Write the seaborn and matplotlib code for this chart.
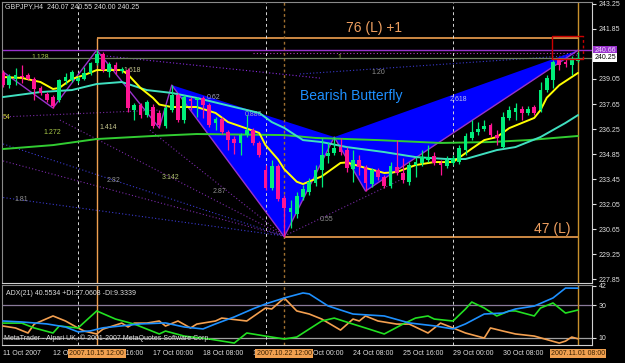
import numpy as np
import pandas as pd
import matplotlib
matplotlib.use("Agg")
import matplotlib.pyplot as plt
import matplotlib.transforms as mtransforms
from matplotlib.patches import Polygon
import seaborn as sns

# ---------------- data ----------------
opens = [239.39, 238.71, 239.05, 239.22, 239.27, 239.05, 238.55, 238.21, 238.04, 237.87,
         238.94, 238.99, 238.94, 239.05, 239.39, 239.95, 240.45, 239.44, 239.83, 239.50,
         239.55, 237.31, 237.59, 237.03, 237.48, 237.15, 236.42, 237.31, 238.15, 236.75,
         237.93, 237.87, 237.99, 237.59, 236.59, 236.81, 236.08, 235.69, 235.47, 235.91,
         236.19, 235.47, 233.95, 232.95, 234.18, 232.39, 231.60, 231.49, 232.44, 232.72,
         233.23, 233.95, 234.74, 234.91, 235.24, 235.07, 234.01, 234.51, 234.12, 233.17,
         233.95, 233.56, 233.06, 234.12, 233.79, 233.28, 234.23, 234.35, 234.51, 234.74,
         234.35, 234.18, 234.35, 234.40, 235.07, 235.75, 236.08, 236.25, 236.47, 235.91,
         235.24, 236.87, 237.20, 237.37, 237.15, 237.48, 237.31, 238.43, 238.99, 240.11,
         240.00, 239.83, 240.07]
highs = [239.55, 239.33, 239.67, 239.83, 239.39, 239.16, 238.66, 238.32, 238.15, 239.05,
         239.39, 239.55, 239.22, 239.72, 240.00, 240.67, 240.56, 240.00, 240.00, 239.72,
         239.67, 237.71, 237.71, 237.87, 237.65, 237.31, 237.59, 238.71, 238.27, 238.15,
         238.04, 238.04, 238.10, 237.71, 236.92, 236.92, 236.19, 235.86, 236.03, 237.03,
         236.31, 235.58, 234.23, 234.51, 234.29, 232.55, 232.27, 232.72, 233.11, 233.51,
         234.23, 235.75, 235.52, 235.80, 235.75, 235.24, 235.07, 234.79, 234.23, 234.07,
         234.07, 233.67, 234.40, 235.63, 234.63, 234.40, 234.68, 235.07, 235.35, 234.96,
         234.51, 234.74, 234.79, 235.35, 236.03, 236.75, 236.64, 236.75, 236.59, 236.19,
         237.20, 237.54, 237.71, 237.54, 237.54, 237.59, 238.88, 239.27, 240.11, 240.23,
         240.17, 240.34, 240.55]
lows = [238.60, 238.55, 238.71, 238.83, 238.99, 237.87, 238.15, 237.76, 237.43, 237.76,
        238.77, 238.88, 238.83, 238.99, 239.27, 239.83, 239.44, 239.16, 239.33, 239.39,
        237.20, 236.75, 236.87, 236.92, 236.31, 236.31, 236.31, 237.20, 236.64, 236.59,
        237.31, 236.92, 236.87, 236.36, 236.19, 235.97, 235.07, 234.85, 234.79, 235.80,
        235.35, 234.68, 232.83, 232.83, 232.22, 230.22, 230.71, 231.27, 232.27, 232.55,
        233.06, 233.00, 234.35, 234.79, 234.79, 233.84, 233.28, 233.67, 232.78, 233.00,
        233.39, 232.95, 232.95, 233.67, 233.23, 233.11, 233.56, 234.18, 234.40, 234.23,
        233.67, 234.07, 234.23, 234.29, 234.79, 235.63, 235.91, 236.14, 235.80, 235.35,
        235.19, 236.75, 236.75, 236.75, 237.03, 237.03, 237.20, 238.32, 238.55, 239.55,
        239.72, 239.27, 240.00]
closes = [238.71, 239.22, 239.27, 239.16, 239.05, 238.49, 238.27, 237.87, 237.54, 238.99,
          239.16, 239.44, 239.11, 239.39, 239.95, 240.45, 239.55, 239.89, 239.50, 239.61,
          237.43, 237.59, 237.03, 237.76, 236.42, 236.47, 237.43, 238.15, 236.75, 238.04,
          237.82, 237.99, 237.59, 236.47, 236.81, 236.08, 235.63, 235.47, 235.91, 236.19,
          235.47, 234.79, 232.95, 234.18, 232.33, 231.83, 231.83, 232.50, 232.89, 233.28,
          233.95, 234.79, 234.91, 235.19, 234.96, 234.07, 234.51, 234.12, 233.23, 233.95,
          233.56, 233.06, 234.18, 233.79, 233.39, 234.23, 234.40, 234.68, 234.68, 234.35,
          234.23, 234.51, 234.63, 235.19, 235.86, 236.08, 236.25, 236.42, 235.91, 235.75,
          236.92, 237.31, 237.43, 237.15, 237.37, 237.15, 238.43, 239.11, 240.00, 239.83,
          239.89, 240.11, 240.25]

yellow_bar = [0, 3, 6, 8, 9, 11, 13, 15, 19, 20, 22, 24, 25, 27, 31, 34, 36, 38, 41, 42,
              44, 45, 47, 48, 51, 54, 55, 58, 61, 63, 66, 69, 72, 75, 77, 79, 81, 85, 86, 87,
              89, 92]
yellow_val = [239.16, 239.11, 238.88, 238.49, 238.55, 239.05, 239.27, 239.55, 239.55, 239.30,
              238.55, 237.99, 237.62, 237.48, 237.48, 237.15, 236.64, 236.40, 236.03, 235.35,
              234.55, 234.00, 233.30, 233.17, 233.60, 234.35, 234.38, 234.07, 233.79, 233.84,
              234.23, 234.40, 234.40, 235.15, 235.63, 235.80, 236.30, 236.87, 237.31, 238.00,
              238.70, 239.39]
cyan_bar = [0, 6, 11, 15, 19, 20, 23, 27, 31, 37, 41, 43, 45, 48, 51, 55, 61, 66, 71, 74,
            79, 82, 86, 90, 92]
cyan_val = [238.04, 238.32, 238.43, 238.77, 238.88, 238.77, 238.43, 238.27, 237.99, 237.48,
            237.15, 236.64, 236.31, 235.63, 235.52, 235.24, 234.96, 234.68, 234.57, 234.57,
            235.07, 235.24, 235.80, 236.59, 237.03]
green_bar = [0, 8, 15, 24, 31, 45, 50, 60, 70, 78, 84, 92]
green_val = [235.13, 235.35, 235.69, 235.86, 235.97, 235.91, 235.75, 235.63, 235.47, 235.52,
             235.63, 235.86]

zz_bar = [-0.4, 8, 15, 25, 27, 45, 53, 58, 92]
zz_val = [239.55, 237.43, 240.67, 236.31, 238.71, 230.22, 235.80, 232.78, 240.66]

adx_bar = [0, 3, 7, 10, 12, 14, 16, 19, 22, 26, 29, 32, 34, 37, 40, 42, 45, 48, 49, 52,
           56, 61, 65, 69, 72, 74, 77, 80, 82, 85, 88, 90, 92]
adx_val = [20.3, 19.7, 18.5, 16.6, 13.6, 14.2, 16.1, 17.3, 18.5, 19.1, 16.6, 15.4, 18.5, 22.8,
           27.8, 30.8, 34.5, 37.6, 37.0, 29.6, 24.6, 23.4, 19.1, 17.3, 15.4, 18.5, 24.6, 25.2,
           27.7, 29.5, 34.5, 40.6, 40.55]
pdi_bar = [0, 3, 5, 8, 9, 12, 15, 18, 21, 25, 26, 29, 33, 37, 39, 42, 45, 47, 51, 53,
           56, 58, 61, 64, 66, 68, 69, 72, 74, 75, 77, 79, 81, 82, 85, 86, 88, 90, 92]
pdi_val = [19.0, 19.0, 16.0, 12.9, 17.2, 16.0, 26.5, 21.5, 18.4, 12.3, 14.1, 11.0, 9.2, 6.7,
           12.9, 11.0, 9.2, 10.4, 20.3, 22.1, 18.4, 16.0, 12.3, 18.4, 22.1, 23.4, 21.5, 20.3,
           27.7, 32.0, 28.3, 23.4, 26.5, 26.5, 23.4, 28.3, 31.4, 25.2, 27.06]
mdi_bar = [0, 2, 4, 5, 8, 10, 12, 13, 15, 16, 19, 20, 21, 23, 25, 26, 28, 30, 31, 34,
           35, 39, 42, 43, 45, 47, 49, 51, 54, 56, 57, 58, 60, 63, 65, 68, 70, 72, 74, 77,
           78, 80, 82, 85, 89, 90, 91, 92]
mdi_val = [17.2, 16.0, 12.9, 18.4, 23.4, 20.3, 16.0, 14.1, 12.3, 15.3, 19.0, 16.6, 19.0, 19.0,
           20.3, 17.2, 20.3, 16.0, 18.4, 20.3, 22.1, 20.3, 28.3, 27.7, 34.5, 26.5, 24.6, 21.5,
           14.7, 21.5, 20.3, 23.4, 20.3, 18.4, 18.4, 12.9, 19.0, 16.0, 12.9, 9.8, 16.0, 14.1,
           12.3, 11.0, 6.7, 7.9, 10.4, 9.33]

price_ticks = [243.25, 241.85, 239.05, 237.65, 236.25, 234.85, 233.45, 232.05, 230.65, 229.25, 227.85]
adx_ticks = [42, 30, 10]
time_bar = [0, 8, 16, 24, 32, 40, 48, 56, 64, 72, 80, 88]
time_lab = ["11 Oct 2007", "12 Oct 08:00", "15 Oct 16:00", "17 Oct 00:00", "18 Oct 08:00",
            "19 Oct 16:00", "23 Oct 00:00", "24 Oct 08:00", "25 Oct 16:00", "29 Oct 00:00",
            "30 Oct 08:00", "31 Oct 16:00"]
mark_bar = [15, 45, 92]
mark_lab = ["2007.10.15 12:00", "2007.10.22 12:00", "2007.11.01 08:00"]
week_sep = [12, 42, 72]

X_lvl, A_lvl = 240.66, 230.22
bid = 240.25
upper_lvl = 241.33
box_lo, box_hi = 240.15, 241.46
box_left, box_right = 87.8, 92.8

# ---------------- style ----------------
sns.set_theme(style="dark", rc={"axes.facecolor": "black", "figure.facecolor": "black"})
plt.rcParams['font.family'] = ['Liberation Sans', 'DejaVu Sans']

W, H = 625, 363
fig = plt.figure(figsize=(W / 100, H / 100), dpi=100, facecolor='black')


def rect(x0, y0, x1, y1):
    return [x0 / W, 1 - y1 / H, (x1 - x0) / W, (y1 - y0) / H]


ax = fig.add_axes(rect(2, 2, 592, 283))
ax2 = fig.add_axes(rect(2, 285, 592, 345))
XMIN, XMAX = -0.16, 94.24
for a in (ax, ax2):
    a.set_facecolor('black')
    a.set_xlim(XMIN, XMAX)
    a.set_xticks([])
    a.grid(False)
    for s in ('top', 'left'):
        a.spines[s].set_color('#8a8a8a')
        a.spines[s].set_linewidth(0.8)
    for s in ('right', 'bottom'):
        a.spines[s].set_color('#d0d0d0')
        a.spines[s].set_linewidth(0.8)
ax.set_ylim(227.63, 243.36)
ax2.set_ylim(5.5, 42.5)

# ---------------- main panel ----------------
ax.add_patch(Polygon([(zz_bar[4], zz_val[4]), (zz_bar[5], zz_val[5]), (zz_bar[6], zz_val[6])],
                     closed=True, fc='#0000ff', ec='none', zorder=1))
ax.add_patch(Polygon([(zz_bar[6], zz_val[6]), (zz_bar[7], zz_val[7]), (zz_bar[8], zz_val[8])],
                     closed=True, fc='#0000ff', ec='none', zorder=1))

dot = (0, (1, 2))
fan = [((15, 240.39), (50.7, 239.10), '#8a2be2'),
       ((47.5, 239.33), (92, 240.39), '#3a3ad0'),
       ((40, 240.51), (92, 240.51), '#c040c0'),
       ((-0.5, 235.47), (45, 230.26), '#3a3ad0'),
       ((-0.5, 232.44), (45, 230.26), '#3a3ad0'),
       ((9.1, 236.75), (45, 230.26), '#7a2aa8'),
       ((-0.5, 234.51), (45, 230.26), '#7a2aa8'),
       ((23.5, 236.19), (45, 230.26), '#7a2aa8'),
       ((45, 230.26), (63.5, 233.39), '#7a2aa8'),
       ((-0.5, 236.92), (25, 237.31), '#7a2aa8')]
for (x0, y0), (x1, y1), cc in fan:
    ax.plot([x0, x1], [y0, y1], color=cc, lw=0.8, ls=dot, zorder=1.5)

fibs = [("1.128", 4.5, 240.28, '#a8c848', 'left'),
        ("1.618", 22.1, 239.50, '#c8c890', 'right'),
        ("1.414", 15.5, 236.36, '#c8c890', 'left'),
        ("1.272", 6.4, 236.08, '#a8c848', 'left'),
        ("54", -0.1, 236.92, '#d0d040', 'left'),
        ("2.82", 16.6, 233.34, '#909090', 'left'),
        ("3.142", 25.4, 233.56, '#b0c070', 'left'),
        ("2.87", 33.6, 232.78, '#909090', 'left'),
        ("1.81", 1.9, 232.33, '#909090', 'left'),
        ("0.55", 50.7, 231.21, '#909090', 'left'),
        ("0.886", 38.7, 237.09, '#a0a0c0', 'left'),
        ("0.62", 32.6, 238.04, '#a0a0c0', 'left'),
        ("1", 53.5, 240.28, '#a8c848', 'left'),
        ("1.20", 59.0, 239.44, '#909090', 'left'),
        ("2.618", 71.5, 237.93, '#b8c0e8', 'left')]
for t, xb, yv, cc, ha in fibs:
    ax.text(xb, yv, t, color=cc, fontsize=5, ha=ha, va='center', zorder=2, clip_on=True)

ax.axhline(X_lvl, color='#9932cc', lw=1.0, zorder=2)
ax.axhline(bid, color='#6f7f62', lw=0.9, zorder=2)
ax.hlines(upper_lvl, 15, 92, color='#f0a050', lw=1.2, zorder=2)
ax.hlines(A_lvl, 45, 92, color='#f0a050', lw=1.2, zorder=2)

ax.vlines(15, 227.63, upper_lvl, color='#f0a050', lw=1.0, zorder=2)
ax2.axvline(15, color='#f0a050', lw=1.0, zorder=2)
for a in (ax, ax2):
    a.axvline(92, color='#c8902c', lw=1.0, zorder=2)
    a.axvline(45, color='#a07030', lw=1.0, ls=(0, (2, 2)), zorder=2)
    for wb in week_sep:
        a.axvline(wb, color='#d8d8d8', lw=0.7, ls=(0, (3, 3)), zorder=2)

ax.plot(zz_bar, zz_val, color='#9932cc', lw=1.0, zorder=2.5)

sns.lineplot(x=green_bar, y=green_val, ax=ax, color='#32cd32', lw=1.4, zorder=3)
sns.lineplot(x=cyan_bar, y=cyan_val, ax=ax, color='#40e0c0', lw=1.4, zorder=3)
sns.lineplot(x=yellow_bar, y=yellow_val, ax=ax, color='#ffff00', lw=1.4, zorder=3)

o = np.array(opens); c = np.array(closes); hi = np.array(highs); lo = np.array(lows)
bars = np.arange(len(o))
col = np.where(c >= o, '#00ee7a', '#ff1493')
ax.vlines(bars, lo, hi, colors=col, lw=0.9, zorder=5)
ax.bar(bars, np.maximum(np.abs(c - o), 0.035), bottom=np.minimum(o, c), width=0.58,
       color=col, linewidth=0, zorder=6)

# red box (right side dashed)
ax.plot([box_right, box_left, box_left, box_right], [box_hi, box_hi, box_lo, box_lo],
        color='#cc0000', lw=1.0, zorder=7)
ax.plot([box_right, box_right], [box_lo, box_hi], color='#cc0000', lw=1.0, ls=(0, (2, 2)), zorder=7)

ax.text(59.3, 241.93, "76 (L) +1", color='#f0a060', fontsize=10, ha='center', va='center', zorder=8)
ax.text(87.8, 230.65, "47 (L)", color='#f0a060', fontsize=10, ha='center', va='center', zorder=8)
ax.text(47.5, 238.10, "Bearish Butterfly", color='#1e90ff', fontsize=10, ha='left', va='center', zorder=8)
fig.text(5 / W, 1 - 7 / H, "GBPJPY,H4  240.07 240.55 240.00 240.25", color='#e0e0e0',
         fontsize=5, ha='left', va='center')

ax.yaxis.tick_right()
ax.set_yticks(price_ticks)
ax.set_yticklabels([f"{v:.2f}" for v in price_ticks])
ax.tick_params(axis='y', colors='#e0e0e0', labelsize=5, length=3, width=0.8, pad=2)
bt = mtransforms.blended_transform_factory(ax.transAxes, ax.transData)
ax.text(1.004, X_lvl, "240.66", transform=bt, color='#f0e0ff', fontsize=5, va='center', ha='left',
        bbox=dict(boxstyle='square,pad=0.15', fc='#9932cc', ec='none'), zorder=9)
ax.text(1.004, bid, "240.25", transform=bt, color='black', fontsize=5, va='center', ha='left',
        bbox=dict(boxstyle='square,pad=0.15', fc='white', ec='none'), zorder=9)

# ---------------- ADX panel ----------------
ax2.axhline(30, color='#8a7a9a', lw=0.9, zorder=1)
ax2.axhline(10, color='#a0a0a0', lw=0.9, zorder=1)
sns.lineplot(x=mdi_bar, y=mdi_val, ax=ax2, color='#f4a050', lw=1.2, zorder=3)
sns.lineplot(x=pdi_bar, y=pdi_val, ax=ax2, color='#22e022', lw=1.2, zorder=3)
sns.lineplot(x=adx_bar, y=adx_val, ax=ax2, color='#1e90ff', lw=1.2, zorder=4)
ax2.set_xlim(XMIN, XMAX)
ax2.set_ylim(5.5, 42.5)
ax2.set_xlabel(''); ax2.set_ylabel(''); ax.set_xlabel(''); ax.set_ylabel('')
ax2.yaxis.tick_right()
ax2.set_yticks(adx_ticks)
ax2.set_yticklabels([str(v) for v in adx_ticks])
ax2.tick_params(axis='y', colors='#e0e0e0', labelsize=5, length=3, width=0.8, pad=2)
ax2.text(0.006, 0.86, "ADX(21) 40.5534 +DI:27.0608 -DI:9.3339", transform=ax2.transAxes,
         color='#e0e0e0', fontsize=5, ha='left', va='center')
ax2.text(0.003, 0.05, "MetaTrader - Alpari UK, \u00a9 2001-2007 MetaQuotes Software Corp.",
         transform=ax2.transAxes, color='#e0e0e0', fontsize=5, ha='left', va='bottom')

tt = mtransforms.blended_transform_factory(ax2.transData, ax2.transAxes)
for b, lab in zip(time_bar, time_lab):
    ax2.text(b, -0.14, lab, transform=tt, color='#e0e0e0', fontsize=5, ha='left', va='center')
for b, lab in zip(mark_bar, mark_lab):
    ax2.text(b, -0.14, lab, transform=tt, color='#3a2000', fontsize=5, ha='center', va='center',
             bbox=dict(boxstyle='square,pad=0.2', fc='#f0a050', ec='none'), zorder=10)

fig.savefig("out.png", dpi=100, facecolor='black')
